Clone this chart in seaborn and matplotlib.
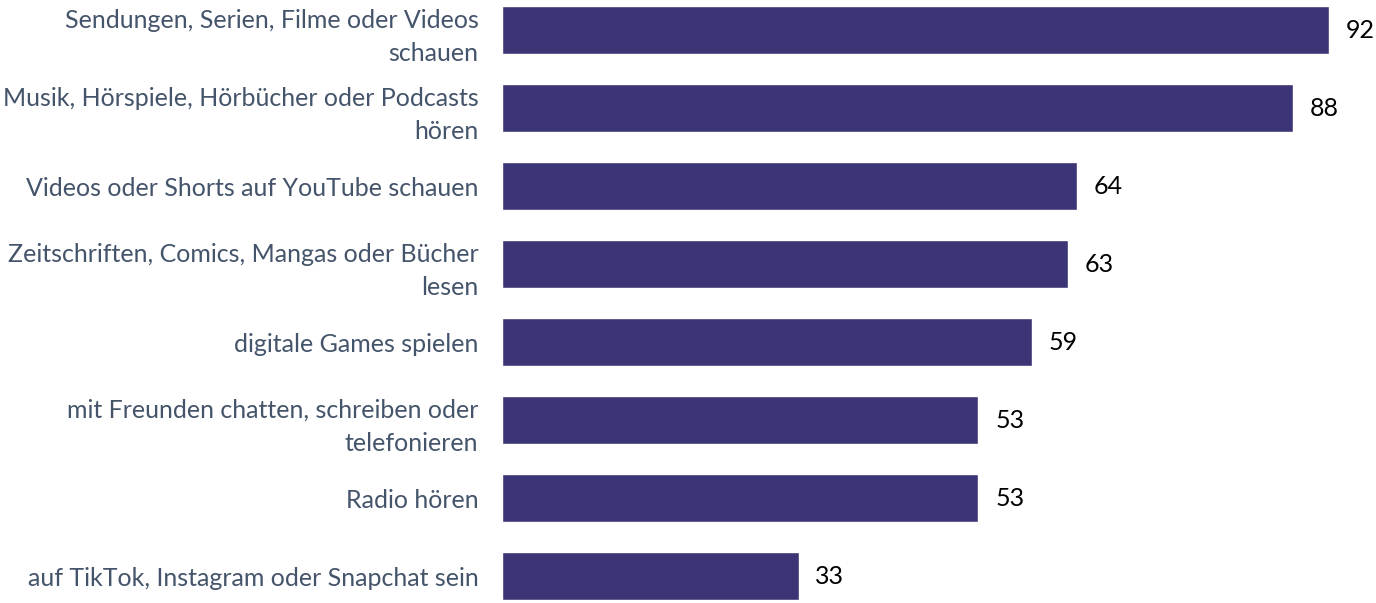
import matplotlib
matplotlib.use("Agg")
import matplotlib.pyplot as plt
import seaborn as sns
import pandas as pd

# Daten aus dem Diagramm
kategorien = [
    "Sendungen, Serien, Filme oder Videos\nschauen",
    "Musik, Hörspiele, Hörbücher oder Podcasts\nhören",
    "Videos oder Shorts auf YouTube schauen",
    "Zeitschriften, Comics, Mangas oder Bücher\nlesen",
    "digitale Games spielen",
    "mit Freunden chatten, schreiben oder\ntelefonieren",
    "Radio hören",
    "auf TikTok, Instagram oder Snapchat sein",
]
werte = [92, 88, 64, 63, 59, 53, 53, 33]

BALKEN_FARBE = "#3c3575"
TEXT_FARBE = "#44546a"

sns.set_theme(style="white")
plt.rcParams['font.family'] = ['Lato', 'DejaVu Sans']

df = pd.DataFrame({'kategorie': kategorien, 'wert': werte})

fig = plt.figure(figsize=(13.76, 6.03), dpi=100)
ax = fig.add_axes([502 / 1376, 0, 871 / 1376, 1])

sns.barplot(data=df, y='kategorie', x='wert', color=BALKEN_FARBE,
            orient='h', width=0.615, saturation=1, ax=ax)

ax.set_xlim(0, 96.9)
ax.set_ylim(7.346, -0.385)
ax.set_xlabel('')
ax.set_ylabel('')
ax.set_xticks([])
sns.despine(ax=ax, left=True, bottom=True)
ax.tick_params(axis='y', length=0, pad=17, labelsize=18, labelcolor=TEXT_FARBE)
for lbl in ax.get_yticklabels():
    lbl.set_horizontalalignment('right')
    lbl.set_linespacing(1.55)

for cont in ax.containers:
    ax.bar_label(cont, padding=12, fontsize=18, color='black')

fig.savefig('out.png', dpi=100)
